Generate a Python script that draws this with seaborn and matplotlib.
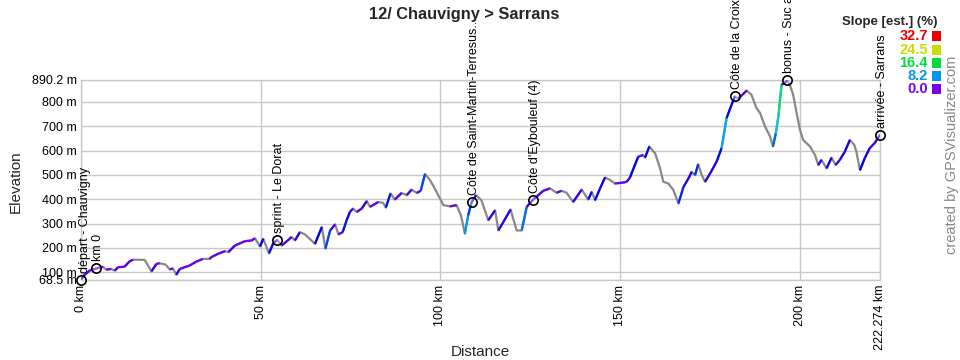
import colorsys
import numpy as np
import pandas as pd
import matplotlib
matplotlib.use("Agg")
import matplotlib.pyplot as plt
import seaborn as sns
from matplotlib.collections import LineCollection
from matplotlib.colors import ListedColormap, Normalize, to_rgb
from matplotlib.patches import Rectangle

# ---------------- data ----------------
km = [0.0, 1.0, 2.5, 4.3, 6.1, 7.0, 8.4, 9.4, 10.3, 12.1, 13.5, 14.5, 17.7, 19.6,
      21.0, 21.9, 23.5, 24.7, 25.6, 26.5, 27.5, 30.2, 32.1, 33.9, 35.8, 36.2, 38.1,
      40.1, 41.0, 42.8, 45.6, 47.5, 48.4, 49.8, 50.7, 52.3, 53.5, 54.6, 55.8, 57.2,
      58.6, 59.5, 60.9, 62.3, 65.1, 67.0, 68.0, 69.3, 70.7, 71.6, 72.8, 73.9, 74.8,
      75.7, 76.7, 78.1, 79.5, 80.4, 82.7, 84.1, 84.8, 86.1, 87.3, 89.2, 90.6, 92.0,
      93.4, 94.5, 95.7, 97.1, 98.9, 100.8, 102.6, 104.5, 105.7, 106.8, 107.7, 108.7,
      109.9, 111.4, 113.3, 115.2, 116.1, 117.5, 119.5, 121.2, 122.6, 124.0, 125.8,
      128.6, 130.5, 132.3, 133.7, 135.1, 136.9, 139.3, 141.1, 142.1, 143.0, 144.4,
      145.8, 147.2, 148.5, 150.5, 151.8, 152.7, 155.0, 156.4, 156.9, 158.1, 159.7,
      161.1, 162.0, 163.4, 164.8, 166.2, 167.6, 169.0, 169.9, 170.8, 171.7, 172.7,
      173.6, 175.0, 176.8, 178.2, 179.6, 181.0, 181.9, 182.8, 183.8, 185.2, 186.5,
      187.9, 188.9, 190.3, 191.7, 192.5, 193.3, 194.0, 194.9, 195.8, 196.5, 197.2,
      198.1, 199.0, 200.0, 200.9, 202.8, 204.2, 205.1, 206.0, 207.4, 208.8, 209.9,
      211.1, 212.5, 213.9, 215.1, 215.7, 216.7, 218.0, 219.4, 220.8, 222.274]
elev = [68.5, 90, 108, 116, 123, 111, 114, 107, 121, 123, 145, 152, 151, 104,
        135, 137, 132, 112, 116, 90, 114, 128, 144, 155, 155, 162, 176,
        187, 183, 210, 228, 231, 240, 206, 238, 178, 220, 234, 210, 227,
        245, 231, 265, 256, 217, 286, 197, 272, 297, 256, 265, 314, 348,
        362, 348, 362, 393, 369, 389, 385, 366, 424, 399, 426, 417, 440,
        426, 435, 504, 479, 431, 376, 371, 376, 334, 259, 334, 389,
        417, 396, 314, 355, 272, 307, 358, 272, 272, 369, 399,
        435, 445, 427, 435, 427, 389, 440, 399, 431, 396, 445,
        490, 479, 465, 468, 472, 489, 575, 582, 571, 617, 589,
        527, 472, 465, 438, 383, 451, 486, 513, 499, 544, 499,
        472, 506, 554, 610, 734, 789, 823, 814, 827, 847, 830,
        775, 755, 699, 658, 617, 672, 740, 871, 878, 890.2, 871,
        830, 761, 686, 644, 617, 582, 541, 562, 527, 571, 541,
        562, 596, 644, 624, 596, 520, 568, 610, 631, 665]

wp_km = [0.0, 4.3, 54.6, 108.7, 125.8, 181.9, 196.5, 222.274]
wp_elev = [68.5, 116, 234, 389, 399, 823, 890.2, 665]
wp_label = ["départ - Chauvigny", "km 0", "sprint - Le Dorat",
            "Côte de Saint-Martin-Terresus...", "Côte d'Eybouleuf (4)",
            "Côte de la Croix", "bonus - Suc au May", "arrivée - Sarrans"]

y_ticks = [68.5, 100, 200, 300, 400, 500, 600, 700, 800, 890.2]
y_tick_labels = ["68.5 m", "100 m", "200 m", "300 m", "400 m", "500 m",
                 "600 m", "700 m", "800 m", "890.2 m"]
x_ticks = [0, 50, 100, 150, 200, 222.274]
x_tick_labels = ["0 km", "50 km", "100 km", "150 km", "200 km", "222.274 km"]

slope_levels = [0.0, 8.2, 16.4, 24.5, 32.7]
slope_colors = ["#7a00f0", "#0096ee", "#00dd3c", "#c8dc00", "#ee0000"]

title = "12/ Chauvigny > Sarrans"

# ---------------- style ----------------
sns.set_theme(style="white")
plt.rcParams["font.family"] = ["Liberation Sans", "DejaVu Sans"]

W, H = 960, 360
fig = plt.figure(figsize=(W / 100, H / 100), dpi=100)
L, R, T, B = 81, 880, 80, 280
ax = fig.add_axes([L / W, 1 - B / H, (R - L) / W, (B - T) / H])

df = pd.DataFrame({"km": km, "elev": elev})
grid_c = "#c8c8c8"

# slope colormap interpolated in hue (HSV), like the legend ramp
hsv_stops = [colorsys.rgb_to_hsv(*to_rgb(c)) for c in slope_colors]
ramp = []
for t in np.linspace(0, slope_levels[-1], 256):
    i = min(np.searchsorted(slope_levels, t, side="right") - 1, len(slope_levels) - 2)
    f = (t - slope_levels[i]) / (slope_levels[i + 1] - slope_levels[i])
    h = hsv_stops[i][0] + f * (hsv_stops[i + 1][0] - hsv_stops[i][0])
    s_ = hsv_stops[i][1] + f * (hsv_stops[i + 1][1] - hsv_stops[i][1])
    v_ = hsv_stops[i][2] + f * (hsv_stops[i + 1][2] - hsv_stops[i][2])
    ramp.append(colorsys.hsv_to_rgb(h, s_, v_))
cmap = ListedColormap(ramp)

# base (downhill) line
sns.lineplot(data=df, x="km", y="elev", color="#888888", lw=1.6, ax=ax,
             estimator=None, sort=False, zorder=3)

# uphill segments colored by slope
kma = np.asarray(km)
ela = np.asarray(elev)
slope = np.diff(ela) / np.diff(kma) / 10.0
pts = np.column_stack([kma, ela]).reshape(-1, 1, 2)
segs = np.concatenate([pts[:-1], pts[1:]], axis=1)
up = slope > 0
lc = LineCollection(segs[up], cmap=cmap, norm=Normalize(0, slope_levels[-1]),
                    linewidths=1.6, zorder=4, capstyle="butt")
lc.set_array(slope[up])
ax.add_collection(lc)

# waypoints
wp = pd.DataFrame({"km": wp_km, "elev": wp_elev})
sns.scatterplot(data=wp, x="km", y="elev", ax=ax, s=45, facecolor=(1, 1, 1, 0.35),
                edgecolor="black", linewidth=1.2, zorder=6, clip_on=False)
for k, e, lab in zip(wp_km, wp_elev, wp_label):
    dx = 4 if k == 0 else 2
    ax.annotate(lab, (k, e), xytext=(dx, 7), textcoords="offset pixels",
                rotation=90, ha="center", va="bottom", fontsize=9,
                color="#000000", annotation_clip=False, zorder=7)

# axes
ax.set_xlim(0, 222.274)
ax.set_ylim(68.5, 890.2)
ax.set_xticks(x_ticks)
ax.set_xticklabels(x_tick_labels, rotation=90, fontsize=9)
ax.set_yticks(y_ticks)
ax.set_yticklabels(y_tick_labels, fontsize=9)
ax.tick_params(axis="both", length=0, colors="#000000")
ax.tick_params(axis="y", pad=3)
ax.tick_params(axis="x", pad=3.5)
ax.grid(True, color=grid_c, lw=1, zorder=0)
for s in ax.spines.values():
    s.set_color(grid_c)
    s.set_linewidth(1)
ax.set_xlabel("")
ax.set_ylabel("")

fig.text(16 / W, 1 - 182 / H, "Elevation", rotation=90, ha="center", va="center",
         fontsize=11)
fig.text(480 / W, 1 - 352 / H, "Distance", ha="center", va="center", fontsize=11)
fig.text(464 / W, 1 - 14 / H, title, ha="center", va="center", fontsize=11.8,
         fontweight="bold")

# slope legend
fig.text(890 / W, 1 - 22.5 / H, "Slope [est.] (%)", ha="center", va="center",
         fontsize=9.5, fontweight="bold")
rows_y = [36, 50, 63, 76, 89]
for yy, v, c in zip(rows_y, slope_levels[::-1], slope_colors[::-1]):
    fig.text(928 / W, 1 - yy / H, f"{v:.1f}", ha="right", va="center",
             fontsize=10.5, fontweight="bold", color=c)
    fig.patches.append(Rectangle((932 / W, 1 - (yy + 5) / H), 9 / W, 10 / H,
                                 transform=fig.transFigure, facecolor=c,
                                 edgecolor="none", figure=fig))

fig.text(952 / W, 1 - 155 / H, "created by GPSVisualizer.com", rotation=90,
         ha="center", va="center", fontsize=10.5, color="#888888")

fig.savefig("out.png", dpi=100)
